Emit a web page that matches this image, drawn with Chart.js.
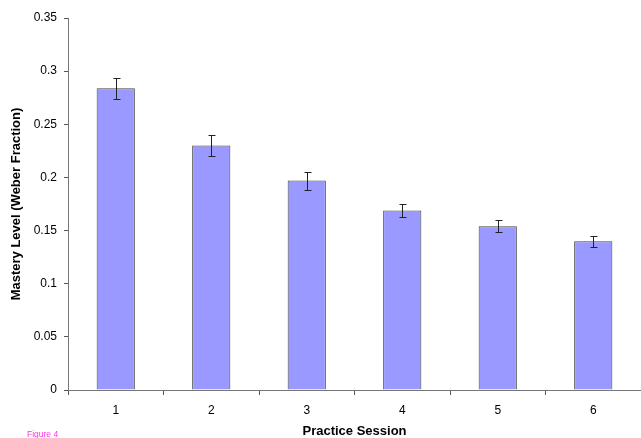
<!DOCTYPE html>
<html>
<head>
<meta charset="utf-8">
<script src="https://cdn.jsdelivr.net/npm/chart.js@4"></script>
<style>
  html, body { margin: 0; padding: 0; background: #fff; }
  #wrap { position: relative; width: 641px; height: 438px; overflow: hidden; }
  #fig { position: absolute; left: 27px; top: 429px; font: 8.5px 'Liberation Sans', Arial, sans-serif; color: #ff33dd; }
</style>
</head>
<body>
<div id="wrap">
  <canvas id="chart-area" width="641" height="438"></canvas>
  <div id="fig">Figure 4</div>
</div>
<script>
var sessions = ['1', '2', '3', '4', '5', '6'];
var mastery = [0.284, 0.230, 0.197, 0.169, 0.154, 0.140];
var errors = [0.010, 0.010, 0.0085, 0.006, 0.0055, 0.005];
var yTicks = [0, 0.05, 0.1, 0.15, 0.2, 0.25, 0.3, 0.35];

var font = "'Liberation Sans', Arial, sans-serif";

// error bars drawn on top of the bars
var errorBars = {
	id: 'errorBars',
	afterDatasetsDraw: function (chart) {
		var ctx = chart.ctx;
		var y = chart.scales.y;
		var meta = chart.getDatasetMeta(0);
		ctx.save();
		ctx.strokeStyle = '#222';
		ctx.lineWidth = 1;
		meta.data.forEach(function (bar, i) {
			var x = Math.round(bar.x) + 0.5;
			var top = Math.round(y.getPixelForValue(mastery[i] + errors[i])) + 0.5;
			var bot = Math.round(y.getPixelForValue(mastery[i] - errors[i])) + 0.5;
			ctx.beginPath();
			ctx.moveTo(x, top); ctx.lineTo(x, bot);
			ctx.moveTo(x - 3, top); ctx.lineTo(x + 4, top);
			ctx.moveTo(x - 3, bot); ctx.lineTo(x + 4, bot);
			ctx.stroke();
		});
		ctx.restore();
	}
};

var config = {
	type: 'bar',
	data: {
		labels: sessions,
		datasets: [{
			data: mastery,
			backgroundColor: '#9999ff',
			borderColor: '#444',
			borderWidth: 1,
			categoryPercentage: 1,
			barPercentage: 0.4
		}]
	},
	options: {
		responsive: false,
		animation: false,
		layout: { padding: { top: 18, right: 0, bottom: 0, left: 0 } },
		plugins: {
			legend: { display: false },
			tooltip: { enabled: false }
		},
		scales: {
			x: {
				grid: { drawOnChartArea: false, color: '#555', tickLength: 5, offset: true },
				border: { color: '#777', width: 1 },
				ticks: { color: '#000', font: { family: font, size: 12 }, padding: 8 },
				title: {
					display: true,
					text: 'Practice Session',
					color: '#000',
					font: { family: font, size: 13, weight: 'bold', lineHeight: 1 },
					padding: { top: 0, bottom: 0 }
				},
				afterFit: function (s) { s.height = 48; }
			},
			y: {
				min: 0,
				max: 0.35,
				afterBuildTicks: function (s) { s.ticks = yTicks.map(function (v) { return { value: v }; }); },
				grid: { drawOnChartArea: false, color: '#555', tickLength: 4 },
				border: { color: '#777', width: 1 },
				ticks: {
					color: '#000',
					font: { family: font, size: 12 },
					padding: 7,
					callback: function (v) { return String(Number(v.toFixed(2))); }
				},
				title: {
					display: true,
					text: 'Mastery Level (Weber Fraction)',
					color: '#000',
					font: { family: font, size: 13, weight: 'bold', lineHeight: 1 },
					padding: { top: 10, bottom: 0 }
				},
				afterFit: function (s) { s.width = 68; }
			}
		}
	},
	plugins: [errorBars]
};

window.onload = function () {
	var ctx = document.getElementById('chart-area').getContext('2d');
	window.myBar = new Chart(ctx, config);
};
</script>
</body>
</html>
